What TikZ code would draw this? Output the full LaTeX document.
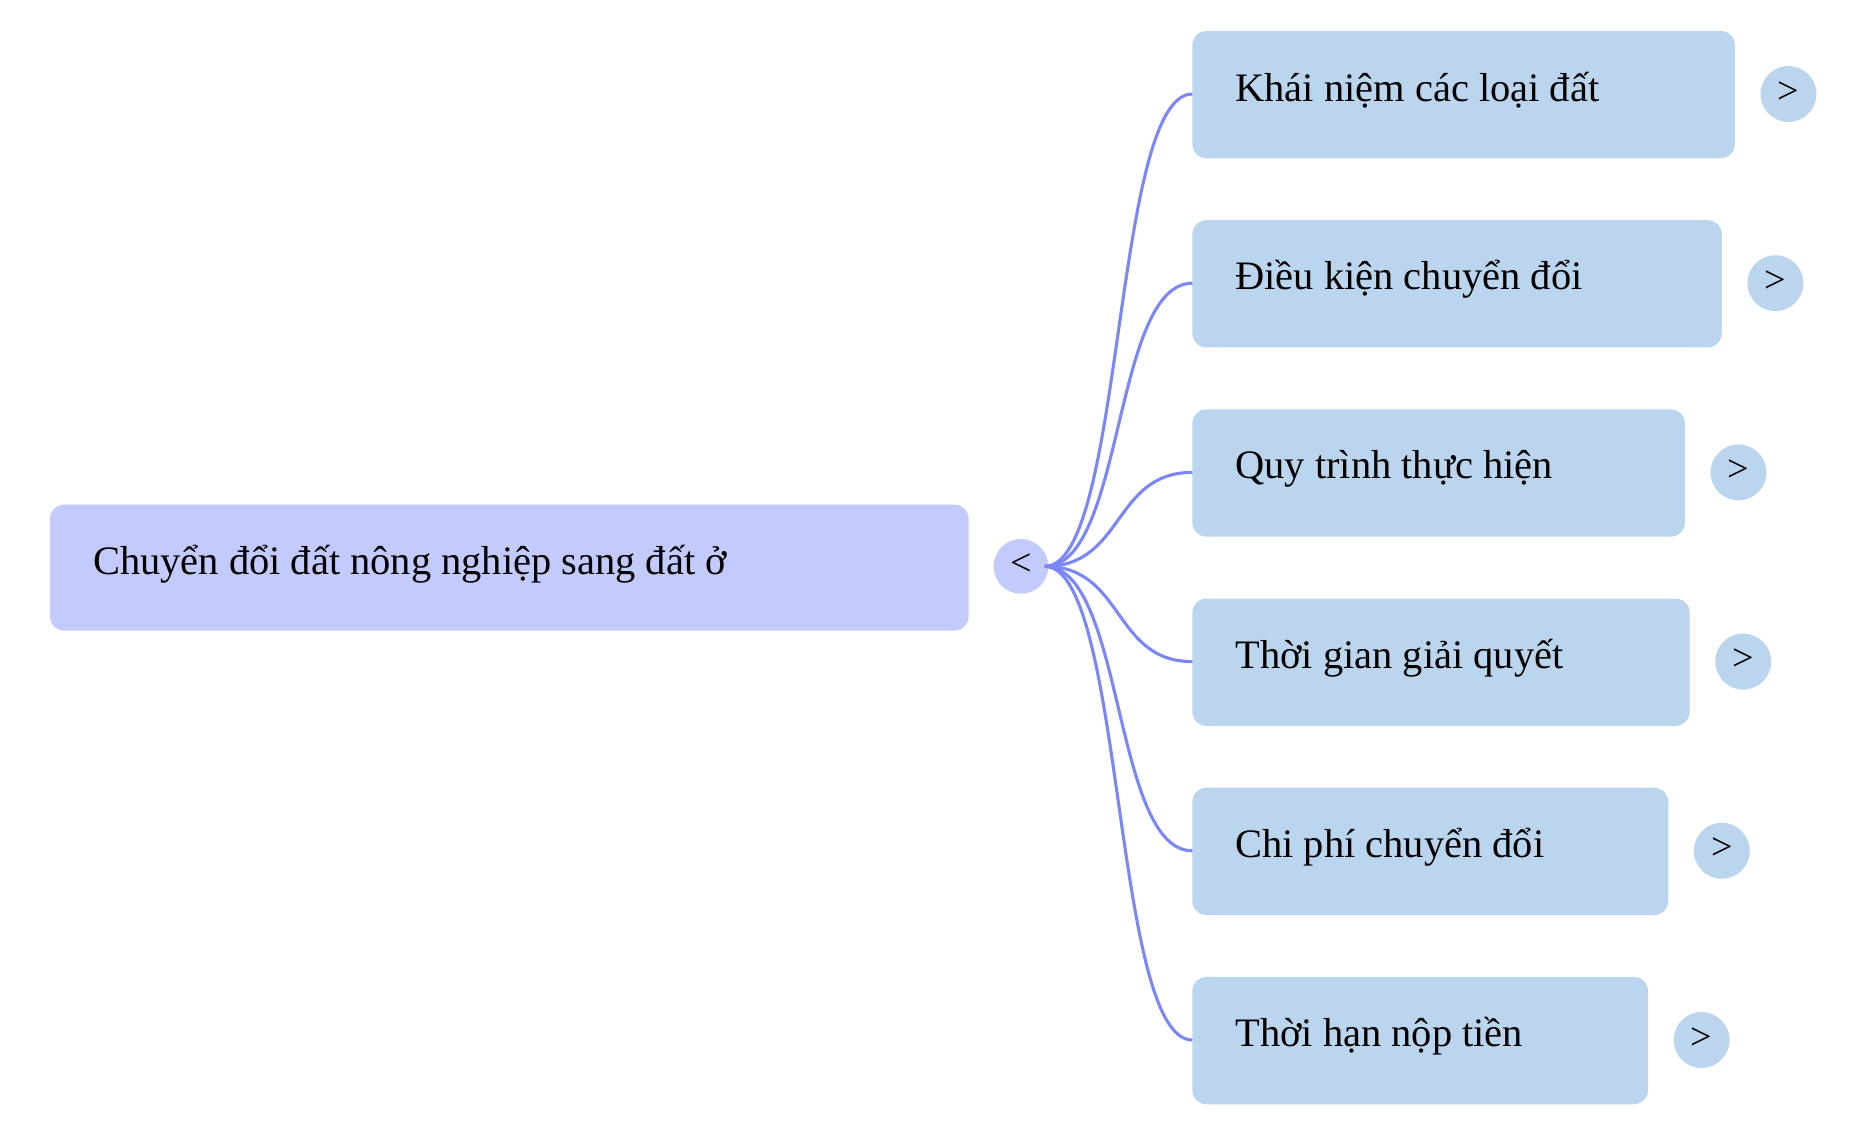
\documentclass[tikz,border=0pt]{standalone}
\usepackage{fontspec}
\setmainfont{Liberation Serif}
\definecolor{rootc}{HTML}{C3CAFD}
\definecolor{childc}{HTML}{BBD5EE}
\definecolor{linec}{HTML}{7B86F7}
\begin{document}
\begin{tikzpicture}[x=1pt,y=-1pt,
 box/.style={fill=#1,rounded corners=12pt,inner sep=0pt},
 lbl/.style={anchor=west,font=\fontsize{34}{40}\selectfont,inner sep=0pt},
 btn/.style={fill=childc,ellipse,inner sep=0pt,minimum width=47pt,minimum height=46pt,font=\fontsize{32}{36}\selectfont},
 conn/.style={draw=linec,line width=2.6pt}]
\useasboundingbox (0,0) rectangle (1569,955);
\fill[rootc,rounded corners=12pt] (42,424) rectangle (814,530);
\node[lbl] (root) at (78,474) {Chuyển đổi đất nông nghiệp sang đất ở};
\node[circle,fill=rootc,minimum size=46pt,inner sep=0pt,font=\fontsize{32}{36}\selectfont] (hub) at (858,476) {\raisebox{3pt}{<}};
\foreach \i/\r/\yt/\t in {1/1458/26/{Khái niệm các loại đất},2/1447/185/{Điều kiện chuyển đổi},3/1416/344/{Quy trình thực hiện},4/1420/503/{Thời gian giải quyết},5/1402/662/{Chi phí chuyển đổi},6/1385/821/{Thời hạn nộp tiền}}{
  \pgfmathsetmacro{\ym}{\yt+53}
  \fill[childc,rounded corners=12pt] (1002,\yt) rectangle (\r,\yt+107);
  \coordinate (c\i) at (1002,\ym);
  \node[lbl] (t\i) at (1038,\ym-3) {\t};
  \node[circle,fill=childc,minimum size=47pt,inner sep=0pt,font=\fontsize{32}{36}\selectfont] (b\i) at (\r+45,\ym) {\raisebox{3pt}{>}};
  \draw[conn] (878,476) .. controls (945,476) and (935,\ym) .. (c\i);
}
\end{tikzpicture}
\end{document}
